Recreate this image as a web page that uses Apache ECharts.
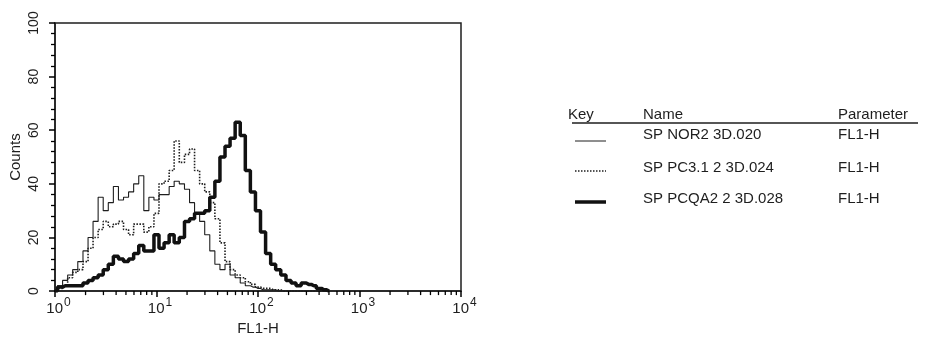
<!DOCTYPE html>
<html>
<head>
<meta charset="utf-8">
<script src="https://cdn.jsdelivr.net/npm/echarts@6/dist/echarts.min.js"></script>
<style>
  html, body { margin: 0; padding: 0; background: #fff; }
  #chart { width: 926px; height: 341px; }
</style>
</head>
<body>
<div id="chart"></div>
<script>
// FL1-H channel positions (log spaced, ~0.05 decade)
var fl1 = [1, 1.12, 1.26, 1.41, 1.58, 1.78, 2, 2.24, 2.51, 2.82,
  3.16, 3.55, 3.98, 4.47, 5.01, 5.62, 6.31, 7.08, 7.94, 8.91,
  10, 11.2, 12.6, 14.1, 15.8, 17.8, 20, 22.4, 25.1, 28.2,
  31.6, 35.5, 39.8, 44.7, 50.1, 56.2, 63.1, 70.8, 79.4, 89.1,
  100, 112, 126, 141, 158, 178, 200, 224, 251, 282,
  316, 355, 398, 447, 501];

// counts
var nor2 = [0, 2, 4, 6, 8, 11, 15, 20, 26, 35,
  30, 33, 39, 34, 35, 37, 40, 43, 30, 35,
  34, 36, 36, 39, 41, 40, 38, 33, 29, 26,
  21, 15, 10, 8, 10, 6, 5, 3, 2, 1.5,
  1, 0.5, 0.5, 0.5, 0, 0, 0, 0, 0, 0,
  0, 0, 0, 0, 0];
var pc31 = [0, 1, 2, 5, 7, 8, 11, 16, 20, 23,
  26, 24, 25, 26, 23, 21, 25, 25, 22, 24,
  29, 40, 41, 45, 56, 48, 51, 53, 45, 40,
  37, 33, 27, 18, 11, 8, 6, 5, 3.5, 2.5,
  1.5, 1, 1, 0.5, 0.5, 0, 0, 0, 0, 0,
  0, 0, 0, 0, 0];
var pcqa2 = [0, 1.5, 2, 2, 2, 2, 3, 4, 5, 6,
  8, 10, 13, 12, 11, 12, 14, 17, 15, 15,
  21, 16, 18, 21, 18, 20, 26, 27, 29, 29,
  30, 35, 41, 50, 54, 57, 63, 58, 45, 37,
  30, 22, 14, 10, 8, 6, 4, 3, 2, 3,
  2.5, 2, 1, 0.5, 0];

var seriesNames = ['SP NOR2 3D.020', 'SP PC3.1 2 3D.024', 'SP PCQA2 2 3D.028'];
var paramNames = ['FL1-H', 'FL1-H', 'FL1-H'];

// minor decade ticks 2..9 x 10^d
var minorTicks = [];
[1, 10, 100, 1000].forEach(function (d) {
  for (var k = 2; k <= 9; k++) minorTicks.push([k * d, 0]);
});

function pairs(ys) {
  return fl1.map(function (x, i) { return [x, ys[i]]; });
}

var ink = '#1e1e1e';
var font = 'Liberation Sans, Arial, sans-serif';

var chart = echarts.init(document.getElementById('chart'));

var legendTop = 115;
var rowY = [135, 168, 199];
var sampleY = [141, 171, 202];
var sampleStyles = [
  { stroke: ink, lineWidth: 1 },
  { stroke: ink, lineWidth: 1.5, lineDash: [1.5, 1.5] },
  { stroke: '#111', lineWidth: 3.5 }
];
var graphics = [
  { type: 'text', x: 568, y: legendTop, style: { text: 'Key', font: '15px ' + font, fill: ink, verticalAlign: 'middle' } },
  { type: 'text', x: 643, y: legendTop, style: { text: 'Name', font: '15px ' + font, fill: ink, verticalAlign: 'middle' } },
  { type: 'text', x: 838, y: legendTop, style: { text: 'Parameter', font: '15px ' + font, fill: ink, verticalAlign: 'middle' } },
  { type: 'line', shape: { x1: 572, y1: 123, x2: 918, y2: 123 }, style: { stroke: ink, lineWidth: 1.5 } }
];
seriesNames.forEach(function (n, i) {
  graphics.push({ type: 'line', shape: { x1: 575, y1: sampleY[i], x2: 606, y2: sampleY[i] }, style: sampleStyles[i] });
  graphics.push({ type: 'text', x: 643, y: rowY[i], style: { text: n, font: '15px ' + font, fill: ink, verticalAlign: 'middle' } });
  graphics.push({ type: 'text', x: 838, y: rowY[i], style: { text: paramNames[i], font: '15px ' + font, fill: ink, verticalAlign: 'middle' } });
});

chart.setOption({
  backgroundColor: '#fff',
  animation: false,
  textStyle: { fontFamily: font, color: ink },
  grid: {
    show: true,
    left: 55,
    right: 465,
    top: 23,
    bottom: 45,
    borderColor: ink,
    borderWidth: 1.5
  },
  xAxis: {
    type: 'log',
    logBase: 10,
    min: 1,
    max: 10000,
    name: 'FL1-H',
    nameLocation: 'middle',
    nameGap: 29,
    nameTextStyle: { fontSize: 15, color: ink },
    axisLine: { show: true, lineStyle: { color: ink, width: 1.5 } },
    axisTick: { show: true, length: 6, lineStyle: { color: '#000', width: 1.5 } },
    splitLine: { show: false },
    axisLabel: {
      margin: 6,
      formatter: function (v) {
        return '{b|10}{s|' + Math.round(Math.log10(v)) + '}';
      },
      rich: {
        b: { fontSize: 15, color: ink, fontFamily: font, verticalAlign: 'bottom', padding: [0, 0, 0, 7] },
        s: { fontSize: 12, color: ink, fontFamily: font, verticalAlign: 'bottom', padding: [0, 0, 7, 1] }
      }
    }
  },
  yAxis: {
    type: 'value',
    min: 0,
    max: 100,
    interval: 20,
    name: 'Counts',
    nameLocation: 'middle',
    nameRotate: 90,
    nameGap: 32,
    nameTextStyle: { fontSize: 15, color: ink },
    axisLine: { show: true, lineStyle: { color: ink, width: 1.5 } },
    axisTick: { show: true, length: 6, lineStyle: { color: '#000', width: 1.5 } },
    minorTick: { show: true, splitNumber: 5, length: 4, lineStyle: { color: '#000', width: 1.3 } },
    splitLine: { show: false },
    axisLabel: { rotate: 90, fontSize: 14, color: ink, margin: 14 }
  },
  series: [
    {
      name: seriesNames[0],
      type: 'line',
      step: 'middle',
      symbol: 'none',
      lineStyle: { color: ink, width: 1.1 },
      data: pairs(nor2),
      z: 3
    },
    {
      name: seriesNames[1],
      type: 'line',
      step: 'middle',
      symbol: 'none',
      lineStyle: { color: ink, width: 1.6, type: [1.5, 1.5] },
      data: pairs(pc31),
      z: 2
    },
    {
      name: seriesNames[2],
      type: 'line',
      step: 'middle',
      symbol: 'none',
      lineStyle: { color: '#111', width: 3.5 },
      data: pairs(pcqa2),
      z: 4
    },
    {
      // minor log ticks under the x axis
      type: 'custom',
      silent: true,
      clip: false,
      encode: { x: 0, y: 1 },
      data: minorTicks,
      renderItem: function (params, api) {
        var p = api.coord([api.value(0), api.value(1)]);
        return {
          type: 'line',
          shape: { x1: p[0], y1: p[1], x2: p[0], y2: p[1] + 4 },
          style: { stroke: '#000', lineWidth: 1.3 }
        };
      },
      z: 5
    }
  ],
  graphic: graphics
});
</script>
</body>
</html>
